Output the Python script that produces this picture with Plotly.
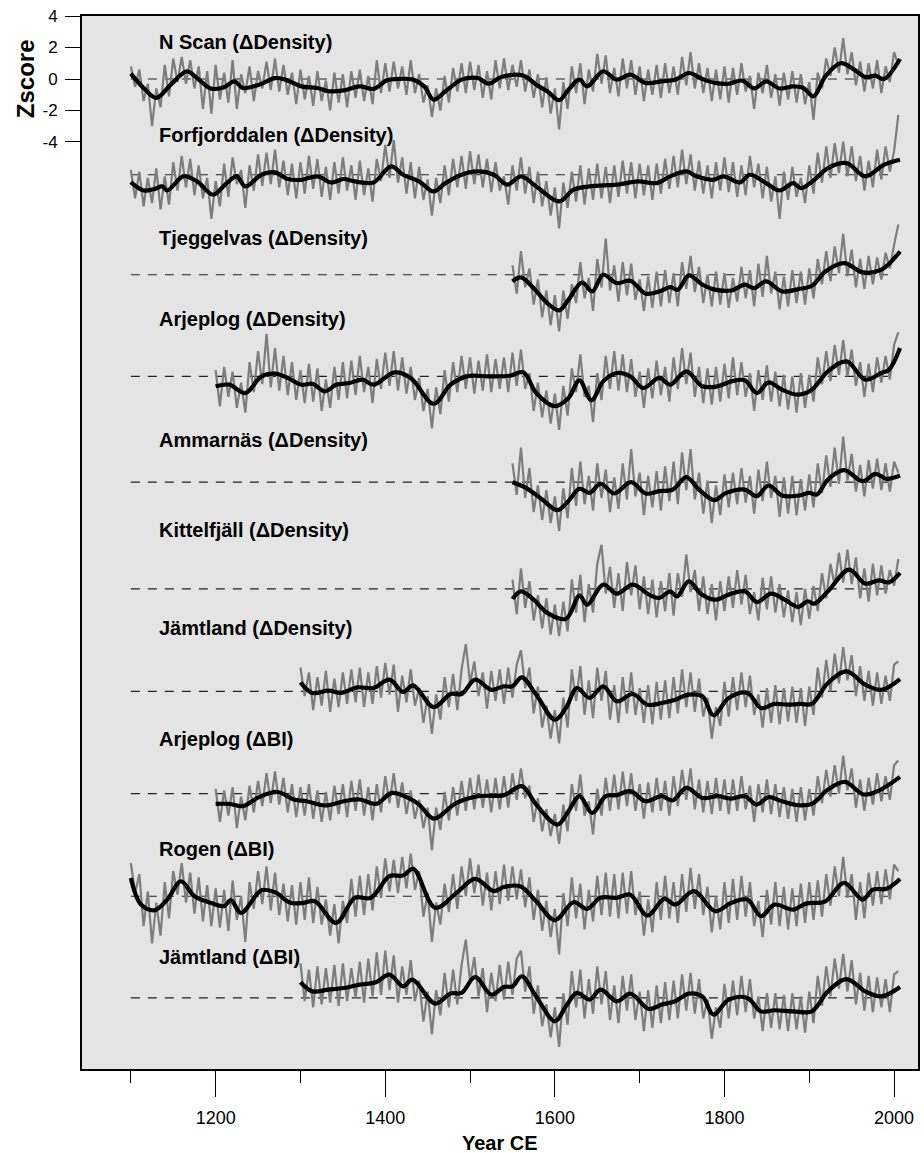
import plotly.graph_objects as go

FONT = "Liberation Sans, Arial, sans-serif"

NAMES = [
    "N Scan (ΔDensity)", "Forfjorddalen (ΔDensity)", "Tjeggelvas (ΔDensity)",
    "Arjeplog (ΔDensity)", "Ammarnäs (ΔDensity)", "Kittelfjäll (ΔDensity)",
    "Jämtland (ΔDensity)", "Arjeplog (ΔBI)", "Rogen (ΔBI)", "Jämtland (ΔBI)",
]
# vertical offset of each record (z-score units)
OFFSETS = [0, -6.08, -12.43, -18.88, -25.6, -32.38, -38.88, -45.37, -51.89, -58.35]
# first year of each annual record (values every 5 years)
GRAY_START = [1100, 1100, 1550, 1200, 1550, 1550, 1300, 1200, 1100, 1300]
GRAY_STEP = 5

GRAY_NSCAN = [
    0.8, -0.5, 0.6, -1.4, -0.3, -3.0, -0.6, -1.8, 0.9, -1.1,
    1.3, -0.2, 1.4, -0.3, 1.2, -0.6, 0.8, -1.9, 0.5, -2.2,
    0.9, -1.3, 0.4, -1.5, 1.2, -1.9, 0.3, -0.9, 0.8, -1.4,
    0.5, -0.6, 1.1, -0.7, 1.3, -0.8, 0.9, -1.0, 0.4, -1.6,
    0.6, -1.3, 0.2, -1.7, 0.5, -1.4, -0.1, -2.0, 0.4, -1.5,
    0.3, -1.8, 0.5, -1.2, 0.6, -1.4, 0.2, -1.6, 1.2, -0.9,
    1.0, -0.8, 1.1, -0.6, 0.8, -1.0, 1.2, -0.9, 0.3, -1.5,
    -0.4, -2.4, -0.6, -2.0, 0.2, -1.5, 0.7, -0.8, 1.0, -0.9,
    1.1, -0.7, 0.9, -1.2, 0.5, -1.3, 1.2, -0.6, 1.3, -0.7,
    0.9, -0.5, 1.2, -0.8, 0.6, -1.2, 0.3, -1.8, 0.1, -2.2,
    -0.6, -3.2, -0.2, -1.9, 0.8, -0.9, 1.0, -1.6, 0.6, -0.8,
    1.6, -0.3, 1.5, -0.9, 0.7, -1.1, 1.3, -0.6, 1.2, -1.0,
    0.8, -1.4, 0.6, -1.0, 0.9, -1.2, 1.0, -0.9, 0.8, -1.0,
    1.4, -0.4, 1.7, -0.6, 1.0, -0.9, 0.7, -1.4, 0.6, -1.3,
    0.8, -1.5, 0.7, -1.0, 1.0, -0.8, 0.2, -1.9, 0.4, -0.9,
    0.9, -1.2, 0.3, -1.7, 0.4, -1.3, 0.5, -1.5, 0.3, -1.6,
    -0.2, -2.6, 0.4, -0.6, 1.3, 0.2, 2.0, 0.4, 2.6, 0.3,
    1.7, -0.4, 1.1, -0.8, 1.0, -0.6, 1.2, -0.9, 0.8, -0.2,
    1.7, 0.9,
]
GRAY_FORF = [
    0.3, -1.5, 0.2, -2.0, -0.2, -1.8, 0.4, -2.2, -0.1, -1.9,
    0.8, -1.0, 1.2, -0.8, 1.0, -1.3, 0.6, -1.5, -0.2, -2.8,
    -0.4, -2.0, 0.7, -1.4, 1.1, -0.6, 0.3, -2.1, 0.6, -1.0,
    1.3, -0.7, 1.4, -0.6, 1.6, -0.8, 0.9, -1.3, 0.7, -1.5,
    0.8, -1.2, 1.2, -0.9, 1.0, -1.4, 0.5, -1.6, 0.8, -1.2,
    1.1, -1.0, 0.6, -1.6, 0.9, -1.3, 0.4, -1.7, 1.0, -0.4,
    1.9, -0.2, 2.2, -0.5, 1.1, -1.2, 0.8, -1.5, 0.5, -1.6,
    -0.3, -2.6, -0.2, -1.8, 0.6, -1.3, 1.0, -0.8, 1.2, -0.9,
    1.5, -0.6, 1.3, -0.8, 1.0, -1.1, 0.8, -1.0, -0.1, -1.9,
    0.6, -1.0, 1.1, -1.2, 0.5, -1.8, 0.2, -2.0, -0.4, -2.6,
    -0.8, -3.4, -0.5, -2.1, 0.2, -1.7, 0.6, -1.9, 0.4, -1.6,
    0.7, -1.5, 0.5, -1.8, 0.6, -1.4, 0.9, -1.2, 0.8, -1.5,
    0.7, -1.3, 0.6, -1.6, 0.7, -1.2, 1.0, -0.9, 1.2, -0.8,
    1.6, -0.6, 1.3, -1.0, 0.9, -1.2, 0.6, -1.5, 0.8, -1.0,
    1.1, -1.1, 0.8, -1.4, 0.6, -1.3, 1.2, -0.8, 0.7, -1.5,
    0.5, -1.7, -0.1, -2.8, 0.2, -1.6, 0.5, -1.4, -0.2, -1.8,
    0.6, -1.2, 1.4, -0.5, 1.8, -0.2, 2.0, 0.1, 2.1, -0.1,
    1.8, -0.4, 1.2, -1.0, 0.9, -0.8, 1.6, -0.3, 1.8, 0.2,
    1.5, 3.8,
]
GRAY_TJEGG = [
    0.6, -1.2, 1.5, -0.8, 0.4, -1.9, -0.3, -2.7, -1.0, -3.2,
    -1.3, -3.6, -1.0, -2.8, -0.6, -1.8, 0.8, -1.5, -0.2, -2.3,
    1.0, -0.8, 2.3, -1.0, 0.6, -1.7, 0.8, -1.3, 0.7, -1.6,
    -0.3, -2.3, -0.1, -2.1, 0.2, -2.0, 0.3, -1.8, 0.1, -2.0,
    0.8, -0.9, 1.2, -1.1, 0.5, -1.8, 0.0, -2.0, 0.2, -1.9,
    0.1, -2.1, -0.2, -1.7, 0.5, -1.5, 0.3, -2.0, 0.7, -1.4,
    1.2, -1.2, 0.2, -2.2, -0.1, -2.0, 0.3, -1.8, 0.2, -1.9,
    0.4, -1.5, 1.0, -0.6, 1.5, -0.4, 1.8, 0.1, 2.6, -0.1,
    1.6, -0.8, 1.0, -0.9, 1.2, -0.6, 1.1, -0.3, 1.4, 0.4,
    1.9, 3.2,
]
GRAY_ARJ = [
    0.4, -1.9, 0.6, -1.3, 0.3, -2.0, -0.4, -2.3, 0.9, -1.0,
    1.6, -0.5, 2.7, -0.7, 1.8, -0.9, 1.3, -1.2, 0.9, -1.5,
    0.4, -1.7, 0.8, -1.6, 0.5, -2.2, -0.2, -2.0, 0.6, -1.5,
    0.9, -1.4, 1.0, -1.2, 1.3, -1.0, 0.6, -1.7, 1.1, -0.8,
    1.5, -0.6, 1.6, -0.9, 1.2, -1.1, 0.6, -1.5, -0.1, -2.2,
    -0.8, -3.3, -0.7, -2.4, 0.4, -1.6, 0.9, -1.0, 1.3, -0.8,
    1.2, -1.1, 1.0, -0.9, 1.4, -1.0, 1.1, -0.8, 1.2, -1.0,
    1.5, -0.6, 1.7, -0.8, 0.2, -2.2, -0.4, -2.6, -0.9, -3.0,
    -1.1, -3.4, -0.6, -2.5, 0.5, -1.0, 1.4, -1.3, -0.6, -2.9,
    0.2, -1.5, 1.3, -0.8, 1.6, -0.9, 1.4, -1.0, 1.1, -1.3,
    0.3, -2.0, 0.5, -1.4, 1.0, -1.2, 0.6, -1.6, 1.2, -0.8,
    1.8, -0.5, 1.5, -1.3, 0.6, -1.7, 0.5, -1.8, 0.6, -1.6,
    0.8, -1.4, 1.2, -1.2, 0.9, -1.3, 0.2, -2.2, 0.4, -1.5,
    0.7, -1.6, 0.3, -1.9, 0.1, -2.1, 0.0, -2.3, 0.2, -2.0,
    0.1, -1.6, 1.2, -0.5, 1.6, -0.3, 2.0, 0.1, 2.3, 0.0,
    1.7, -0.6, 0.9, -1.3, 0.8, -1.0, 1.2, -0.4, 1.3, -0.2,
    2.0, 2.8,
]
GRAY_AMM = [
    1.2, -0.8, 2.2, -1.0, 0.9, -1.9, -0.2, -2.4, -0.5, -2.6,
    -0.9, -3.1, -0.4, -2.3, 0.9, -1.5, 1.3, -1.4, 0.4, -1.8,
    1.2, -1.0, 0.8, -1.9, 0.3, -1.7, 1.2, -1.1, 2.1, -0.9,
    0.6, -2.1, 0.4, -1.6, 0.7, -1.8, 1.0, -1.2, 1.3, -1.4,
    1.9, -0.5, 2.1, -1.1, 0.6, -2.0, 0.1, -2.6, -0.2, -2.1,
    0.5, -1.6, 0.6, -1.4, 0.9, -1.3, 0.4, -2.0, 0.8, -1.2,
    1.3, -1.0, 0.4, -2.2, 0.3, -2.0, 0.4, -2.1, 0.2, -1.8,
    0.5, -1.6, 1.2, -0.7, 1.7, -0.3, 2.2, -0.1, 2.9, 0.1,
    1.8, -0.6, 1.1, -0.9, 1.4, -0.4, 1.5, -0.5, 1.2, -0.6,
    1.3, 0.6,
]
GRAY_KITT = [
    0.6, -1.6, 1.3, -1.2, 0.5, -2.0, -0.4, -2.5, -0.6, -2.9,
    -1.0, -3.0, -0.8, -2.7, 0.6, -1.5, 0.9, -2.1, 0.3, -1.5,
    1.6, 2.8, -0.3, 1.4, -1.2, 1.0, -1.4, 1.7, -0.4, 1.5,
    -1.3, 0.8, -1.6, 0.6, -1.8, 0.5, -1.4, 1.0, -1.7, 1.0,
    -0.5, 2.2, -0.2, 1.2, -1.4, 0.8, -1.6, 0.3, -2.0, 0.5,
    -1.4, 0.8, -1.2, 1.2, -1.0, 0.9, -1.6, -0.2, -2.0, 0.7,
    -1.3, 0.8, -1.5, 0.3, -1.8, -0.1, -2.1, -0.2, -2.3, 0.0,
    -1.9, 0.2, -1.4, 1.0, -0.6, 1.6, 0.2, 2.3, 0.4, 2.5,
    0.3, 2.0, -0.6, 1.3, -0.8, 1.6, -0.4, 1.5, -0.3, 1.2,
    0.2, 1.9,
]
GRAY_JAMT = [
    1.5, -0.3, 1.2, -1.2, 0.9, -0.9, 1.3, -1.3, 0.8, -1.0,
    1.2, -0.8, 1.4, -0.7, 1.5, -1.0, 1.2, -0.8, 1.6, -0.4,
    1.8, -0.2, 1.7, -1.3, 1.0, -0.7, 1.4, -0.9, 0.2, -2.0,
    -0.3, -2.7, -0.2, -1.8, 0.9, -1.0, 1.1, -1.2, 1.4, 3.0,
    0.5, 1.9, -0.3, 1.2, -1.1, 1.3, -0.6, 1.4, -0.8, 1.5,
    -0.4, 1.7, 2.6, 0.2, 1.5, -1.4, 0.3, -2.3, -0.9, -3.0,
    -1.2, -3.3, -0.4, -2.3, 1.4, -0.6, 1.6, -1.5, 0.7, -1.7,
    1.5, -0.6, 1.3, -1.8, 0.4, -2.0, 0.9, -1.4, 1.2, -1.5,
    0.2, -2.0, 0.4, -2.1, 0.6, -1.8, 0.7, -1.7, 0.9, -1.4,
    1.4, -1.0, 1.2, -1.3, 0.8, -1.6, -0.4, -3.0, -1.0, -2.2,
    0.6, -1.6, 0.9, -1.2, 1.2, -1.0, 1.0, -1.5, -0.2, -2.3,
    0.2, -2.0, 0.4, -2.1, 0.2, -1.9, 0.3, -2.0, 0.2, -2.2,
    0.3, -1.5, 1.5, -0.4, 2.0, 0.0, 2.4, 0.5, 2.8, 0.7,
    2.3, -0.3, 1.6, -0.6, 1.3, -0.9, 1.2, -0.8, 1.0, -0.6,
    1.7, 1.9,
]
GRAY_ARJ_BI = [
    0.3, -1.8, 0.2, -1.4, 0.4, -2.2, -0.2, -1.7, 0.5, -1.2,
    0.8, -0.8, 1.3, -0.6, 1.4, -0.7, 1.0, -1.2, 0.6, -1.5,
    0.4, -1.4, 0.6, -1.6, 0.2, -1.8, 0.1, -1.7, 0.5, -1.3,
    0.6, -1.5, 0.8, -1.1, 0.9, -1.4, 0.4, -1.7, 0.6, -1.2,
    1.1, -0.6, 1.3, -0.9, 0.7, -1.3, 0.2, -1.6, -0.4, -2.2,
    -0.9, -3.6, -0.9, -2.3, 0.1, -1.7, 0.4, -1.4, 0.8, -1.1,
    1.0, -1.0, 1.2, -0.9, 0.9, -1.2, 1.0, -1.0, 1.1, -0.9,
    1.3, -0.4, 1.6, -0.3, 0.5, -1.8, -0.3, -2.4, -1.0, -2.7,
    -1.3, -3.2, -0.7, -2.4, 0.6, -1.1, 1.2, -1.4, -0.5, -2.6,
    0.3, -1.4, 1.0, -1.1, 1.2, -1.0, 1.4, -0.8, 1.3, -1.1,
    0.6, -1.6, 0.7, -1.2, 1.0, -1.1, 0.8, -1.4, 1.1, -0.8,
    1.5, -0.4, 1.6, -1.0, 0.9, -1.2, 0.8, -1.3, 1.0, -1.1,
    0.9, -1.3, 0.9, -1.1, 1.1, -1.0, 0.5, -1.8, 0.6, -1.2,
    0.9, -1.3, 0.6, -1.5, 0.4, -1.6, 0.3, -1.8, 0.4, -1.7,
    0.3, -1.4, 1.1, -0.6, 1.5, -0.2, 1.8, 0.0, 2.4, 0.2,
    1.6, -0.9, 0.9, -1.1, 1.0, -0.7, 1.3, -0.5, 1.1, -0.4,
    1.8, 2.1,
]
GRAY_ROGEN = [
    2.1, 0.2, 1.4, -1.9, 0.3, -3.0, -0.4, -2.5, 0.9, -1.4,
    1.6, 0.1, 2.1, -0.4, 1.5, -1.1, 1.2, -1.6, 0.7, -1.9,
    0.5, -2.0, 0.4, -2.2, 1.0, -1.5, 0.0, -2.9, 0.9, -0.8,
    1.6, -0.5, 1.9, -0.9, 1.5, -1.2, 0.8, -1.6, 0.7, -1.8,
    0.9, -1.5, 1.2, -1.7, 0.6, -1.8, -0.2, -2.5, -0.5, -3.0,
    -0.3, -1.7, 1.1, -1.3, 1.3, -1.2, 1.4, -0.9, 1.9, -0.1,
    2.4, 0.3, 2.3, 0.2, 2.5, 0.5, 2.7, 0.4, 1.6, -1.3,
    0.2, -2.9, -0.4, -1.8, 0.8, -1.0, 1.4, -0.8, 1.9, 0.0,
    2.4, 0.2, 2.0, -0.6, 1.5, -0.9, 1.6, -0.5, 2.0, -0.3,
    1.9, -0.2, 1.7, -0.7, 1.2, -1.5, 0.4, -2.2, -0.3, -2.6,
    -0.8, -3.7, 0.2, -1.9, 1.2, -1.4, 0.8, -2.1, 0.4, -1.6,
    1.3, -1.2, 1.5, -1.3, 1.4, -1.4, 1.5, -1.1, 1.6, -1.2,
    0.3, -2.5, -0.2, -2.3, 0.9, -1.5, 1.3, -1.4, 0.9, -1.7,
    1.4, -1.0, 1.8, -0.8, 1.4, -1.2, 0.6, -2.3, 0.0, -2.1,
    0.9, -1.7, 1.1, -1.5, 1.3, -1.3, 0.9, -1.9, -0.3, -2.6,
    0.4, -1.8, 0.9, -1.9, 0.6, -2.1, 0.5, -1.9, 0.8, -1.7,
    0.9, -1.5, 1.0, -1.3, 1.4, -0.6, 1.9, 0.0, 2.5, -0.1,
    1.4, -1.5, 0.9, -1.4, 1.5, -0.6, 1.6, -0.5, 1.7, -0.2,
    2.0, 1.6,
]
GRAY_JAMT_BI = [
    2.2, -0.2, 1.8, -0.6, 2.0, -0.4, 1.9, -0.3, 2.1, -0.5,
    2.2, -0.2, 1.9, 0.0, 2.3, -0.3, 2.5, 0.1, 2.9, 0.2,
    3.0, 0.5, 2.7, -0.3, 2.0, 0.2, 2.4, -0.2, 1.1, -1.5,
    0.4, -2.3, 0.5, -1.1, 1.6, -0.6, 1.8, -0.4, 2.1, 3.7,
    1.0, 2.6, 0.1, 1.9, -0.9, 1.6, -0.2, 2.1, -0.1, 2.3,
    0.2, 2.5, 3.0, 0.4, 2.0, -1.0, 0.8, -1.8, -0.4, -2.5,
    -0.6, -3.1, 0.3, -1.7, 1.7, -0.6, 1.8, -1.3, 1.2, -1.0,
    2.0, -0.4, 1.7, -1.4, 0.8, -1.6, 1.4, -0.8, 1.5, -1.4,
    0.4, -2.1, 0.5, -1.9, 0.8, -1.6, 1.0, -1.4, 1.1, -1.3,
    1.5, -0.8, 1.6, -1.0, 1.2, -1.3, -0.1, -2.6, -0.6, -1.9,
    0.9, -1.3, 1.1, -1.1, 1.4, -0.9, 1.2, -1.3, 0.1, -2.1,
    0.3, -1.9, 0.3, -2.0, 0.2, -2.1, 0.3, -2.0, 0.1, -2.2,
    0.4, -1.6, 1.4, -0.5, 2.0, 0.1, 2.5, 0.6, 2.8, 0.4,
    2.4, -0.4, 1.6, -0.8, 1.4, -0.9, 1.3, -0.6, 1.2, -0.9,
    1.5, 1.7,
]

# smoothed (low-pass) curves as (year, z-score) pairs
SMOOTH_NSCAN = [(1100,0.34),(1115,-0.57),(1130,-1.2),(1147,-0.36),(1166,0.49),(1178,0.06),(1194,-0.6),(1210,-0.53),(1222,-0.15),(1232,-0.57),(1251,-0.36),(1270,0.06),(1282,-0.04),(1301,-0.47),(1320,-0.57),(1333,-0.78),(1351,-0.72),(1370,-0.47),(1386,-0.63),(1402,-0.08),(1414,0),(1433,-0.04),(1446,-0.47),(1457,-1.31),(1471,-0.78),(1490,-0.04),(1509,0.06),(1522,-0.3),(1537,0.13),(1563,0.21),(1578,-0.36),(1591,-0.78),(1605,-1.35),(1616,-0.68),(1629,-0.04),(1638,-0.47),(1657,0.49),(1673,-0.04),(1689,0.28),(1707,-0.25),(1726,-0.15),(1742,-0.04),(1758,0.38),(1774,0),(1789,-0.25),(1805,-0.3),(1821,-0.1),(1835,-0.6),(1849,-0.15),(1865,-0.6),(1881,-0.47),(1893,-0.57),(1905,-1.1),(1919,0.17),(1937,1.0),(1953,0.6),(1966,0.13),(1978,0.21),(1988,0),(2007,1.27)]
SMOOTH_FORF = [(1100,-0.47),(1115,-1.0),(1128,-0.9),(1137,-0.74),(1143,-1.0),(1162,-0.1),(1178,-0.42),(1197,-1.27),(1213,-0.53),(1225,-0.1),(1235,-0.74),(1254,0),(1270,0.15),(1285,-0.27),(1301,-0.32),(1320,-0.1),(1336,-0.49),(1351,-0.27),(1364,-0.42),(1386,-0.49),(1407,0.53),(1421,0),(1440,-0.42),(1457,-1.06),(1471,-0.53),(1490,0),(1509,0.21),(1528,0),(1544,-0.63),(1560,-0.1),(1578,-0.74),(1605,-1.69),(1622,-0.95),(1641,-0.74),(1673,-0.63),(1698,-0.42),(1720,-0.53),(1736,-0.1),(1755,0.21),(1767,-0.1),(1786,-0.32),(1799,-0.1),(1818,-0.49),(1830,0),(1849,-0.53),(1865,-1.0),(1881,-0.53),(1890,-0.85),(1906,-0.32),(1922,0.42),(1944,0.74),(1966,-0.1),(1988,0.63),(2007,0.95)]
SMOOTH_TJEGG = [(1550,-0.42),(1560,-0.17),(1575,-0.85),(1591,-1.8),(1605,-2.26),(1616,-1.59),(1632,-0.49),(1644,-1.06),(1657,0),(1673,-0.53),(1689,-0.38),(1707,-1.2),(1723,-1.06),(1736,-0.78),(1745,-0.95),(1758,-0.04),(1774,-0.63),(1786,-0.91),(1808,-1.0),(1824,-0.63),(1835,-0.85),(1849,-0.42),(1868,-1.06),(1887,-0.91),(1903,-0.7),(1919,0.21),(1941,0.74),(1963,0.15),(1985,0.32),(2007,1.48)]
SMOOTH_ARJ = [(1200,-0.63),(1216,-0.53),(1235,-1.06),(1254,0),(1270,0.17),(1285,-0.1),(1301,-0.53),(1314,-0.47),(1329,-0.95),(1342,-0.53),(1358,-0.42),(1373,-0.21),(1386,-0.53),(1411,0.25),(1430,-0.1),(1457,-1.74),(1477,-0.53),(1496,0),(1522,0),(1547,0.04),(1563,0.25),(1578,-1.06),(1600,-1.9),(1616,-1.38),(1629,-0.25),(1643,-1.52),(1657,-0.32),(1673,0.21),(1689,0),(1704,-0.74),(1723,-0.1),(1736,-0.53),(1755,0.32),(1774,-0.63),(1792,-0.63),(1808,-0.32),(1824,-0.25),(1838,-1.06),(1852,-0.38),(1868,-0.85),(1887,-1.16),(1903,-0.85),(1922,0.32),(1944,0.95),(1966,-0.21),(1985,0.21),(1994,0.42),(2007,1.8)]
SMOOTH_AMM = [(1550,0),(1566,-0.36),(1585,-1.1),(1603,-1.78),(1616,-1.2),(1629,-0.42),(1641,-0.68),(1654,-0.1),(1670,-0.72),(1690,0),(1707,-0.72),(1723,-0.57),(1739,-0.47),(1755,0.32),(1770,-0.47),(1788,-1.14),(1802,-0.68),(1824,-0.47),(1838,-0.89),(1852,-0.21),(1868,-0.85),(1887,-0.85),(1900,-0.68),(1909,-0.78),(1922,0.17),(1941,0.76),(1963,0.06),(1978,0.53),(1991,0.21),(2007,0.42)]
SMOOTH_KITT = [(1550,-0.63),(1560,-0.15),(1575,-0.68),(1591,-1.52),(1613,-1.9),(1629,-0.42),(1638,-1.0),(1657,0.28),(1673,-0.3),(1692,0.28),(1711,-0.36),(1723,-0.57),(1736,-0.15),(1744,-0.47),(1758,0.49),(1772,-0.3),(1789,-0.68),(1805,-0.36),(1824,-0.15),(1838,-0.83),(1855,-0.3),(1871,-0.68),(1887,-1.14),(1898,-0.78),(1906,-0.93),(1922,-0.15),(1947,1.23),(1966,0.34),(1982,0.55),(1994,0.42),(2007,1.02)]
SMOOTH_JAMT = [(1300,0.57),(1314,-0.1),(1333,0.04),(1348,-0.1),(1367,0.25),(1386,0.21),(1405,0.74),(1421,-0.04),(1433,0.38),(1457,-1.0),(1477,-0.17),(1490,-0.17),(1506,0.74),(1525,0.1),(1540,0.32),(1550,0.32),(1561,0.89),(1578,-0.21),(1600,-1.8),(1613,-1.06),(1626,0.21),(1641,-0.42),(1657,0.32),(1673,-0.63),(1692,-0.17),(1709,-0.85),(1726,-0.74),(1742,-0.53),(1758,-0.21),(1774,-0.32),(1787,-1.52),(1805,-0.42),(1827,-0.1),(1843,-1.06),(1859,-0.8),(1874,-0.85),(1890,-0.8),(1903,-0.8),(1922,0.53),(1944,1.27),(1966,0.42),(1985,0.1),(2007,0.78)]
SMOOTH_ARJ_BI = [(1200,-0.66),(1216,-0.66),(1232,-0.8),(1251,-0.23),(1273,0.1),(1292,-0.38),(1307,-0.49),(1329,-0.76),(1351,-0.49),(1370,-0.38),(1389,-0.66),(1408,0.04),(1427,-0.28),(1440,-0.7),(1457,-1.59),(1484,-0.59),(1509,-0.17),(1540,-0.1),(1561,0.47),(1578,-0.7),(1603,-1.97),(1616,-1.12),(1629,-0.17),(1644,-1.23),(1660,-0.17),(1673,-0.1),(1689,0.15),(1707,-0.49),(1726,-0.17),(1739,-0.44),(1755,0.36),(1774,-0.28),(1792,-0.17),(1808,-0.32),(1824,-0.17),(1838,-0.7),(1852,-0.23),(1868,-0.49),(1887,-0.74),(1903,-0.66),(1922,0.25),(1942,0.74),(1964,-0.06),(1982,0.19),(2007,1.06)]
SMOOTH_ROGEN = [(1100,1.16),(1112,-0.53),(1128,-0.89),(1143,-0.21),(1159,0.95),(1175,0),(1194,-0.42),(1210,-0.63),(1218,-0.25),(1230,-1.06),(1254,0.38),(1270,0.25),(1288,-0.42),(1304,-0.42),(1317,-0.32),(1342,-1.69),(1364,-0.1),(1383,-0.1),(1405,1.27),(1421,1.31),(1433,1.74),(1459,-0.74),(1484,0.21),(1506,1.1),(1528,0.32),(1540,0.59),(1559,0.63),(1578,-0.32),(1600,-1.52),(1622,-0.38),(1638,-0.8),(1654,-0.1),(1673,-0.1),(1689,0.1),(1709,-1.23),(1729,-0.17),(1742,-0.53),(1764,0.32),(1789,-0.95),(1808,-0.42),(1827,-0.21),(1843,-1.27),(1859,-0.53),(1881,-0.85),(1896,-0.47),(1919,-0.32),(1941,0.85),(1963,-0.21),(1975,0.42),(1991,0.47),(2007,1.1)]
SMOOTH_JAMT_BI = [(1300,1.0),(1314,0.42),(1333,0.53),(1351,0.63),(1370,0.85),(1389,1.0),(1405,1.48),(1421,0.74),(1432,1.16),(1459,-0.36),(1477,0.28),(1490,0.32),(1506,1.33),(1525,0.21),(1540,0.7),(1550,0.74),(1561,1.38),(1578,0.1),(1600,-1.48),(1613,-0.53),(1626,0.32),(1641,-0.1),(1654,0.53),(1673,-0.21),(1689,0.28),(1711,-0.7),(1726,-0.42),(1742,-0.21),(1758,0.28),(1774,0.1),(1787,-1.06),(1805,-0.1),(1827,0),(1843,-0.85),(1859,-0.78),(1881,-0.85),(1903,-0.85),(1922,0.42),(1944,1.2),(1966,0.42),(1985,0.1),(2007,0.7)]

GRAY = [GRAY_NSCAN, GRAY_FORF, GRAY_TJEGG, GRAY_ARJ, GRAY_AMM, GRAY_KITT,
        GRAY_JAMT, GRAY_ARJ_BI, GRAY_ROGEN, GRAY_JAMT_BI]
SMOOTH = [SMOOTH_NSCAN, SMOOTH_FORF, SMOOTH_TJEGG, SMOOTH_ARJ, SMOOTH_AMM, SMOOTH_KITT,
          SMOOTH_JAMT, SMOOTH_ARJ_BI, SMOOTH_ROGEN, SMOOTH_JAMT_BI]

ZERO_LINE_YEARS = [1100, 2000]
X_TICKS = [1200, 1400, 1600, 1800, 2000]
Y_TICKS = [-4, -2, 0, 2, 4]

# layout-only values (label placement, in data units)
LABEL_X = 1131
LABEL_Y = [2.37, -3.56, -10.11, -15.26, -22.92, -28.63, -34.88, -41.92, -48.89, -55.73]

fig = go.Figure()
for name, off, start, vals, sm in zip(NAMES, OFFSETS, GRAY_START, GRAY, SMOOTH):
    fig.add_trace(go.Scatter(
        x=ZERO_LINE_YEARS, y=[off, off], mode="lines",
        line=dict(color="#222222", width=1.2, dash="9px,8px"),
        hoverinfo="skip"))
    years = [start + GRAY_STEP * k for k in range(len(vals))]
    fig.add_trace(go.Scatter(
        x=years, y=[v + off for v in vals], mode="lines", name=name,
        line=dict(color="#7d7d7d", width=2.2)))
    sx = [p[0] for p in sm]
    sy = [p[1] + off for p in sm]
    fig.add_trace(go.Scatter(
        x=sx, y=sy, mode="lines", name=name + " smooth",
        line=dict(color="black", width=4.2, shape="spline", smoothing=1.0)))

annotations = []
for name, ly in zip(NAMES, LABEL_Y):
    annotations.append(dict(
        x=LABEL_X, y=ly, xref="x", yref="y", text="<b>%s</b>" % name,
        showarrow=False, xanchor="left", yanchor="middle",
        font=dict(family=FONT, size=20, color="black")))
annotations.append(dict(
    x=-0.068, y=0, xref="paper", yref="y", text="<b>Zscore</b>", textangle=-90,
    showarrow=False, xanchor="center", yanchor="middle",
    font=dict(family=FONT, size=24, color="black")))
annotations.append(dict(
    x=0.5, y=-0.0703, xref="paper", yref="paper", text="<b>Year CE</b>",
    showarrow=False, xanchor="center", yanchor="middle",
    font=dict(family=FONT, size=20, color="black")))

fig.update_layout(
    width=924, height=1153,
    margin=dict(l=82, r=4, t=16, b=84),
    paper_bgcolor="white", plot_bgcolor="#e4e4e4",
    showlegend=False,
    font=dict(family=FONT, color="black"),
    annotations=annotations,
    xaxis=dict(
        range=[1042.4, 2028.2], tickmode="array", tickvals=X_TICKS,
        ticks="outside", ticklen=26, tickwidth=1.2, tickcolor="black",
        minor=dict(ticks="outside", ticklen=12, tickwidth=1.2, tickcolor="black",
                   tickmode="linear", tick0=1100, dtick=100),
        showline=True, mirror=True, linewidth=2, linecolor="black",
        showgrid=False, zeroline=False,
        tickfont=dict(family=FONT, size=18, color="black"),
        ticklabelstandoff=5,
    ),
    yaxis=dict(
        range=[-62.86, 4], tickmode="array", tickvals=Y_TICKS,
        ticktext=[str(v) for v in Y_TICKS],
        ticks="outside", ticklen=15, tickwidth=1.2, tickcolor="black",
        showline=True, mirror=True, linewidth=2, linecolor="black",
        showgrid=False, zeroline=False,
        tickfont=dict(family=FONT, size=17, color="black"),
        ticklabelstandoff=4,
    ),
)

fig.write_html("out.html")
